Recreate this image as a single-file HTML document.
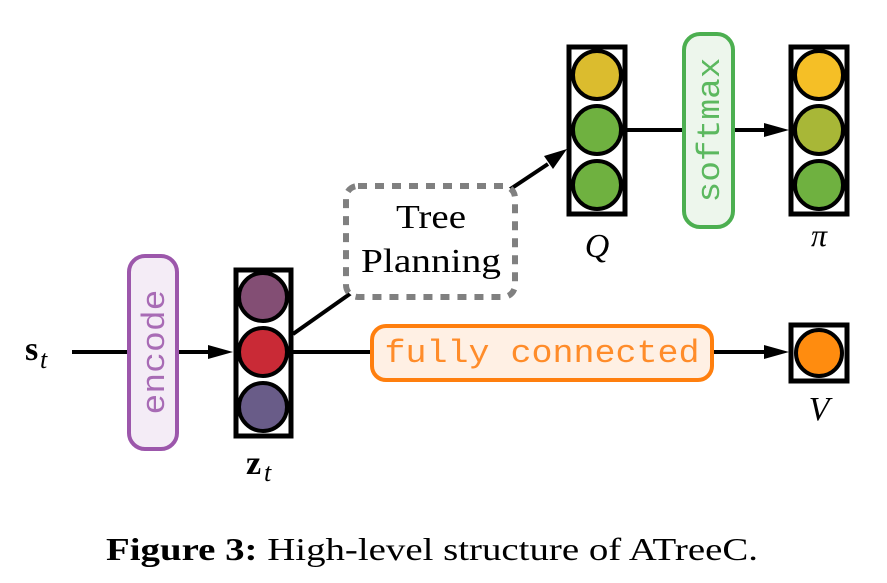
<!DOCTYPE html>
<html><head><meta charset="utf-8"><style>html,body{margin:0;padding:0;background:#fff}svg{display:block}
.m{font-family:"Liberation Mono",monospace}
.s{font-family:"Liberation Serif",serif}
</style></head>
<body>
<svg width="887" height="583" viewBox="0 0 887 583" xmlns="http://www.w3.org/2000/svg">
<g stroke="#000" stroke-width="4" fill="none">
<line x1="72" y1="352" x2="128" y2="352"/>
<line x1="178" y1="352" x2="210" y2="352"/>
<path d="M208,345 L233,352 L208,359 z" fill="#000" stroke="none"/>
<line x1="293" y1="334" x2="354" y2="291"/>
<line x1="293" y1="352" x2="371" y2="352"/>
<line x1="713" y1="352" x2="766" y2="352"/>
<path d="M764,345 L789,352 L764,359 z" fill="#000" stroke="none"/>
<line x1="509" y1="190" x2="548" y2="164"/>
<path d="M544,156 L567,149 L553,169 z" fill="#000" stroke="none"/>
<line x1="627" y1="130" x2="683" y2="130"/>
<line x1="734" y1="130" x2="766" y2="130"/>
<path d="M764,123 L789,130 L764,137 z" fill="#000" stroke="none"/>
</g>
<rect x="129" y="256" width="48" height="193" rx="16" fill="#f4ecf6" stroke="#9c57ab" stroke-width="4"/>
<text class="m" transform="translate(164,352) rotate(-90)" text-anchor="middle" font-size="32" fill="#a86bb5" textLength="125" lengthAdjust="spacingAndGlyphs">encode</text>
<rect x="684" y="34" width="49" height="193" rx="16" fill="#edf6ec" stroke="#4caf50" stroke-width="4"/>
<text class="m" transform="translate(719,130) rotate(-90)" text-anchor="middle" font-size="32" fill="#5cb85f" textLength="145" lengthAdjust="spacingAndGlyphs">softmax</text>
<rect x="372" y="326" width="340" height="54" rx="14" fill="#fff0e4" stroke="#ff7f0e" stroke-width="4"/>
<text class="m" x="542" y="362" text-anchor="middle" font-size="32" fill="#ff8c2a" textLength="315" lengthAdjust="spacingAndGlyphs">fully connected</text>
<rect x="346" y="186" width="169" height="111" rx="12" fill="#fff" stroke="#808080" stroke-width="6" stroke-dasharray="9,8"/>
<text class="s" x="431" y="228" text-anchor="middle" font-size="34" fill="#000" textLength="70" lengthAdjust="spacingAndGlyphs">Tree</text>
<text class="s" x="431" y="272" text-anchor="middle" font-size="34" fill="#000" textLength="140" lengthAdjust="spacingAndGlyphs">Planning</text>
<rect x="236" y="270" width="55" height="166" fill="#fff" stroke="#000" stroke-width="5"/>
<circle cx="263" cy="297" r="24" fill="#834e74" stroke="#000" stroke-width="4"/>
<circle cx="263" cy="352" r="24" fill="#c92a36" stroke="#000" stroke-width="4"/>
<circle cx="263" cy="407" r="24" fill="#695c88" stroke="#000" stroke-width="4"/>
<rect x="569" y="47" width="56" height="167" fill="#fff" stroke="#000" stroke-width="5"/>
<circle cx="597" cy="75" r="24" fill="#dbbc2e" stroke="#000" stroke-width="4"/>
<circle cx="597" cy="130" r="24" fill="#6fb140" stroke="#000" stroke-width="4"/>
<circle cx="597" cy="185" r="24" fill="#6fb140" stroke="#000" stroke-width="4"/>
<rect x="791" y="47" width="56" height="167" fill="#fff" stroke="#000" stroke-width="5"/>
<circle cx="819" cy="75" r="24" fill="#f5bf26" stroke="#000" stroke-width="4"/>
<circle cx="819" cy="130" r="24" fill="#a8b737" stroke="#000" stroke-width="4"/>
<circle cx="819" cy="185" r="24" fill="#6fb140" stroke="#000" stroke-width="4"/>
<rect x="791" y="325" width="56" height="56" fill="#fff" stroke="#000" stroke-width="5"/>
<circle cx="819" cy="353" r="23" fill="#ff8c0f" stroke="#000" stroke-width="4"/>
<text class="s" x="25" y="360" font-size="34" font-weight="bold">s</text>
<text class="s" x="40" y="368" font-size="26" font-style="italic">t</text>
<text class="s" x="246" y="474" font-size="34" font-weight="bold">z</text>
<text class="s" x="264" y="481" font-size="26" font-style="italic">t</text>
<text class="s" x="597" y="257" text-anchor="middle" font-size="34" font-style="italic">Q</text>
<text class="s" x="819" y="246" text-anchor="middle" font-size="32" font-style="italic">π</text>
<text class="s" x="819" y="420" text-anchor="middle" font-size="34" font-style="italic">V</text>
<text class="s" x="106" y="560" font-size="32" textLength="652" lengthAdjust="spacingAndGlyphs"><tspan font-weight="bold">Figure 3:</tspan> High-level structure of ATreeC.</text>
</svg>
</body></html>
